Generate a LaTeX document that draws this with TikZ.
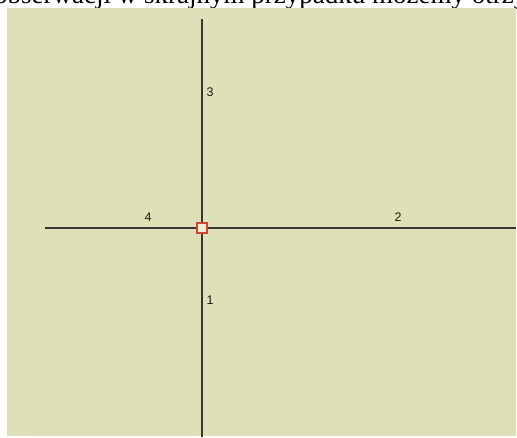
\documentclass[tikz,border=0pt]{standalone}
\usepackage{fontspec}
\setmainfont{Liberation Serif}
\newfontfamily\labelfont{Liberation Sans}
\usepackage{tikz}
\usetikzlibrary{positioning}
\definecolor{panelbg}{RGB}{223,223,184}
\definecolor{axisgray}{RGB}{55,55,50}
\definecolor{pivotred}{RGB}{214,64,52}

\begin{document}
\begin{tikzpicture}[x=1pt, y=-1pt,
    axis/.style={draw=axisgray, line width=1.6pt},
    pivot/.style={draw=pivotred, line width=1.3pt, fill=panelbg!60!white,
                  minimum size=10pt, inner sep=0pt},
    armlbl/.style={font=\labelfont\fontsize{12.5}{12.5}\selectfont, text=black!90,
                   inner sep=0pt}]
    \useasboundingbox (0,0) rectangle (517,437);
    % line of page text cut by the picture
    \begin{scope}
      \clip (0,0) rectangle (517,9);
      \node[anchor=base west, inner sep=0pt, font=\fontsize{27}{27}\selectfont]
        (pagetext) at (-6,3) {obserwacji w skrajnym przypadku możemy otrzymać};
    \end{scope}
    \fill[panelbg] (7,8) rectangle (516,436);
    % arms
    \coordinate (armtop) at (202,19);
    \coordinate (armbottom) at (202,437);
    \coordinate (armleft) at (45,228);
    \coordinate (armright) at (516,228);
    \draw[axis] (armtop) -- (armbottom);
    \draw[axis] (armleft) -- (armright);
    \node[pivot] (pivot) at (202,228) {};
    \node[armlbl] (arm1) at (210,300) {1};
    \node[armlbl] (arm2) at (398,217) {2};
    \node[armlbl] (arm3) at (210,92) {3};
    \node[armlbl] (arm4) at (148,217) {4};
  \end{tikzpicture}
\end{document}
